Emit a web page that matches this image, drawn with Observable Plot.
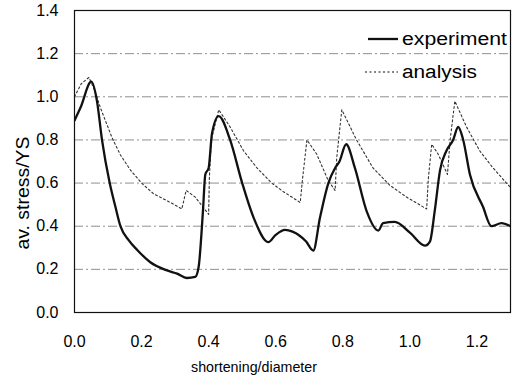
<!DOCTYPE html>
<html>
<head>
<meta charset="utf-8">
<script src="https://cdn.jsdelivr.net/npm/d3@7"></script>
<script src="https://cdn.jsdelivr.net/npm/@observablehq/plot@0.6"></script>
<style>
  html, body { margin: 0; padding: 0; background: #fff; }
  #wrap { position: relative; width: 518px; height: 378px; font-family: "Liberation Sans", Arial, sans-serif; }
  #overlay { position: absolute; left: 0; top: 0; pointer-events: none; }
</style>
</head>
<body>
<div id="wrap"></div>
<script>
// experiment (solid) — shortening/diameter vs av. stress/YS
const expX = [0, 0.018, 0.05, 0.067, 0.082, 0.105, 0.122, 0.137, 0.162, 0.187, 0.226, 0.276, 0.306, 0.335, 0.36, 0.37, 0.383, 0.39, 0.40, 0.41, 0.43, 0.464, 0.50, 0.534, 0.578, 0.60, 0.628, 0.65, 0.69, 0.712, 0.732, 0.757, 0.777, 0.79, 0.81, 0.836, 0.871, 0.906, 0.92, 0.955, 1.0, 1.045, 1.06, 1.074, 1.09, 1.109, 1.129, 1.144, 1.159, 1.179, 1.218, 1.243, 1.273, 1.30];
const expY = [0.89, 0.95, 1.07, 0.98, 0.80, 0.60, 0.49, 0.40, 0.334, 0.29, 0.233, 0.195, 0.18, 0.16, 0.165, 0.21, 0.47, 0.64, 0.67, 0.83, 0.91, 0.80, 0.60, 0.44, 0.326, 0.36, 0.383, 0.375, 0.33, 0.287, 0.44, 0.60, 0.67, 0.70, 0.78, 0.67, 0.47, 0.38, 0.414, 0.42, 0.37, 0.31, 0.33, 0.47, 0.66, 0.75, 0.80, 0.86, 0.80, 0.64, 0.49, 0.40, 0.414, 0.40];

// analysis (dotted)
const anaX = [0, 0.02, 0.043, 0.06, 0.077, 0.112, 0.137, 0.167, 0.20, 0.236, 0.286, 0.32, 0.333, 0.36, 0.40, 0.402, 0.408, 0.43, 0.464, 0.504, 0.544, 0.588, 0.623, 0.673, 0.68, 0.693, 0.722, 0.757, 0.777, 0.782, 0.797, 0.841, 0.89, 0.94, 0.99, 1.05, 1.055, 1.065, 1.084, 1.112, 1.12, 1.134, 1.169, 1.208, 1.248, 1.288, 1.30];
const anaY = [1.0, 1.06, 1.09, 1.03, 0.95, 0.81, 0.73, 0.66, 0.60, 0.55, 0.51, 0.48, 0.566, 0.535, 0.455, 0.62, 0.80, 0.94, 0.86, 0.75, 0.67, 0.60, 0.56, 0.51, 0.62, 0.80, 0.735, 0.61, 0.566, 0.72, 0.94, 0.80, 0.67, 0.59, 0.535, 0.48, 0.62, 0.78, 0.735, 0.64, 0.80, 0.98, 0.86, 0.75, 0.67, 0.60, 0.58];

const xTicks = [0, 0.2, 0.4, 0.6, 0.8, 1.0, 1.2];
const yTicks = [0, 0.2, 0.4, 0.6, 0.8, 1.0, 1.2, 1.4];
const gridTicks = [0.2, 0.4, 0.6, 0.8, 1.0, 1.2];
const seriesNames = ["experiment", "analysis"];
const xTitle = "shortening/diameter";
const yTitle = "av. stress/YS";

const expData = expX.map((x, i) => ({x, y: expY[i]}));
const anaData = anaX.map((x, i) => ({x, y: anaY[i]}));
const fmt = d3.format(".1f");

const chart = Plot.plot({
  width: 518,
  height: 378,
  marginLeft: 74,
  marginRight: 8,
  marginTop: 10,
  marginBottom: 66,
  style: {fontFamily: "'Liberation Sans', Arial, sans-serif", fontSize: "16px", background: "#fff", color: "#000"},
  x: {domain: [0, 1.3]},
  y: {domain: [0, 1.4]},
  marks: [
    Plot.gridY(gridTicks, {stroke: "#555", strokeOpacity: 0.65, strokeDasharray: "9,3,2,3"}),
    Plot.axisX({ticks: xTicks, tickFormat: fmt, tickSize: 0, tickPadding: 23, label: null, fontSize: 16}),
    Plot.axisY({ticks: yTicks, tickFormat: fmt, tickSize: 0, tickPadding: 16, label: null, fontSize: 16}),
    Plot.line(anaData, {x: "x", y: "y", stroke: "#333", strokeWidth: 1.1, strokeDasharray: "2,2.5", clip: true}),
    Plot.line(expData, {x: "x", y: "y", curve: "monotone-x", stroke: "#111", strokeWidth: 2.3, strokeLinejoin: "round", clip: true}),
    Plot.frame({stroke: "#111", strokeWidth: 1.2})
  ]
});
document.getElementById("wrap").appendChild(chart);

// overlay: legend (inside plot, top-right) and axis titles
const ns = "http://www.w3.org/2000/svg";
const ov = document.createElementNS(ns, "svg");
ov.setAttribute("id", "overlay");
ov.setAttribute("width", 518);
ov.setAttribute("height", 378);
const font = "'Liberation Sans', Arial, sans-serif";
function addText(str, attrs) {
  const t = document.createElementNS(ns, "text");
  for (const k in attrs) t.setAttribute(k, attrs[k]);
  t.setAttribute("font-family", font);
  t.textContent = str;
  ov.appendChild(t);
  return t;
}
const items = [
  {name: seriesNames[0], cy: 39, dash: null, sw: 2.3, x1: 368, len: 105},
  {name: seriesNames[1], cy: 72, dash: "2,2.5", sw: 1.1, x1: 365, len: 75}
];
items.forEach(it => {
  const ln = document.createElementNS(ns, "line");
  ln.setAttribute("x1", it.x1); ln.setAttribute("x2", 398);
  ln.setAttribute("y1", it.cy); ln.setAttribute("y2", it.cy);
  ln.setAttribute("stroke", "#111"); ln.setAttribute("stroke-width", it.sw);
  if (it.dash) ln.setAttribute("stroke-dasharray", it.dash);
  ov.appendChild(ln);
  addText(it.name, {x: 402, y: it.cy + 6, "font-size": 18, textLength: it.len, lengthAdjust: "spacingAndGlyphs"});
});
addText(xTitle, {x: 254, y: 372, "font-size": 15, "text-anchor": "middle", textLength: 126, lengthAdjust: "spacingAndGlyphs"});
addText(yTitle, {transform: "translate(29,193) rotate(-90)", "font-size": 19, "text-anchor": "middle", textLength: 113, lengthAdjust: "spacingAndGlyphs"});
document.getElementById("wrap").appendChild(ov);
</script>
</body>
</html>
